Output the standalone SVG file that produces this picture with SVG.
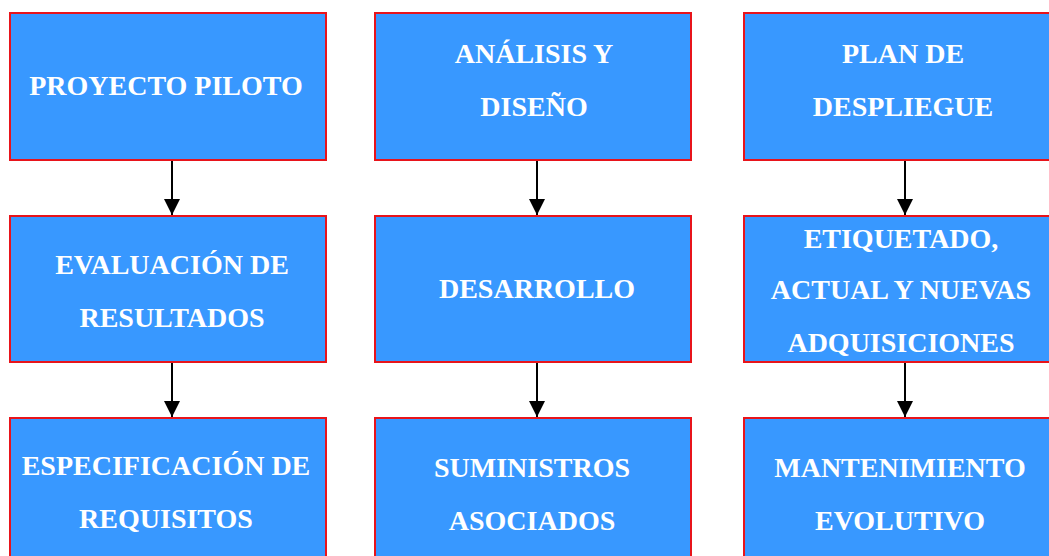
<svg xmlns="http://www.w3.org/2000/svg" width="1049" height="556" viewBox="0 0 1049 556">
<style>
.box{fill:#3898FF;stroke:#E8141B;stroke-width:2}
.t{font-family:"Liberation Serif","Times New Roman",serif;font-weight:bold;font-size:28px;fill:#fff;text-anchor:middle}
.c{stroke:#000;stroke-width:2;fill:none}
</style>
<defs>
<marker id="ah" markerWidth="8" markerHeight="8" refX="8" refY="4" orient="auto" markerUnits="strokeWidth">
<path d="M0,0 L8,4 L0,8 Z" fill="#000"/>
</marker>
</defs>
<rect width="1049" height="556" fill="#fff"/>
<g id="connectors">
<line class="c" x1="172" y1="160" x2="172" y2="215" marker-end="url(#ah)"/>
<line class="c" x1="172" y1="362" x2="172" y2="417" marker-end="url(#ah)"/>
<line class="c" x1="537" y1="160" x2="537" y2="215" marker-end="url(#ah)"/>
<line class="c" x1="537" y1="362" x2="537" y2="417" marker-end="url(#ah)"/>
<line class="c" x1="905" y1="160" x2="905" y2="215" marker-end="url(#ah)"/>
<line class="c" x1="905" y1="362" x2="905" y2="417" marker-end="url(#ah)"/>
</g>
<g id="n1"><rect class="box" x="10" y="13" width="316" height="147"/><text class="t" x="166" y="95">PROYECTO PILOTO</text></g>
<g id="n2"><rect class="box" x="375" y="13" width="316" height="147"/><text class="t" x="534" y="63">ANÁLISIS Y</text><text class="t" x="534" y="116">DISEÑO</text></g>
<g id="n3"><rect class="box" x="744" y="13" width="316" height="147"/><text class="t" x="903" y="63">PLAN DE</text><text class="t" x="903" y="116">DESPLIEGUE</text></g>
<g id="n4"><rect class="box" x="10" y="216" width="316" height="146"/><text class="t" x="172" y="274">EVALUACIÓN DE</text><text class="t" x="172" y="327">RESULTADOS</text></g>
<g id="n5"><rect class="box" x="375" y="216" width="316" height="146"/><text class="t" x="537" y="298">DESARROLLO</text></g>
<g id="n6"><rect class="box" x="744" y="216" width="316" height="146"/><text class="t" x="901" y="248">ETIQUETADO,</text><text class="t" x="901" y="299">ACTUAL Y NUEVAS</text><text class="t" x="901" y="352">ADQUISICIONES</text></g>
<g id="n7"><rect class="box" x="10" y="418" width="316" height="150"/><text class="t" x="166" y="475">ESPECIFICACIÓN DE</text><text class="t" x="166" y="528">REQUISITOS</text></g>
<g id="n8"><rect class="box" x="375" y="418" width="316" height="150"/><text class="t" x="532" y="477">SUMINISTROS</text><text class="t" x="532" y="530">ASOCIADOS</text></g>
<g id="n9"><rect class="box" x="744" y="418" width="316" height="150"/><text class="t" x="900" y="477">MANTENIMIENTO</text><text class="t" x="900" y="530">EVOLUTIVO</text></g>
</svg>
